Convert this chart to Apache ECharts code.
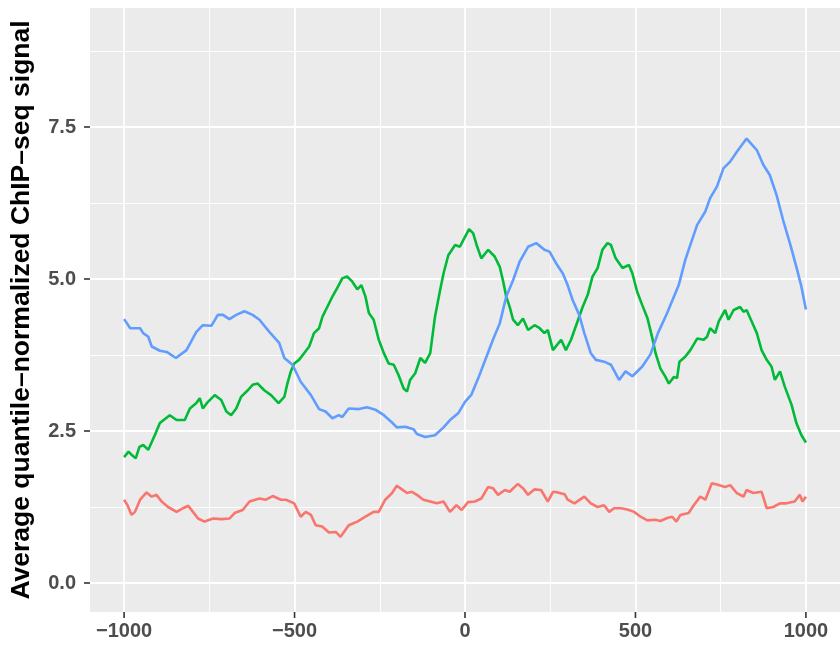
<!DOCTYPE html>
<html>
<head>
<meta charset="utf-8">
<script src="https://cdn.jsdelivr.net/npm/echarts@6/dist/echarts.min.js"></script>
<style>html,body{margin:0;padding:0;background:#fff}#c{width:840px;height:645px}</style>
</head>
<body>
<div id="c"></div>
<script>
const xMajorTicks = [-1000, -500, 0, 500, 1000];
const xMinorTicks = [-750, -250, 250, 750];
const yMajorTicks = [0, 2.5, 5, 7.5];
const yMinorTicks = [1.25, 3.75, 6.25, 8.75];
const yTitle = 'Average quantile\u2013normalized ChIP\u2013seq signal';

const blueSeries = [[-1000,4.34],[-982,4.19],[-953,4.19],[-944,4.11],[-929,4.05],[-919,3.89],[-895,3.82],[-875,3.80],[-848,3.70],[-817,3.83],[-788,4.13],[-769,4.24],[-744,4.23],[-725,4.41],[-710,4.41],[-691,4.34],[-671,4.41],[-647,4.47],[-623,4.41],[-603,4.33],[-574,4.13],[-545,3.95],[-530,3.70],[-506,3.59],[-482,3.31],[-452,3.09],[-428,2.86],[-409,2.82],[-389,2.71],[-370,2.76],[-360,2.73],[-341,2.87],[-311,2.86],[-287,2.89],[-263,2.85],[-238,2.76],[-214,2.64],[-200,2.56],[-175,2.57],[-151,2.53],[-141,2.45],[-117,2.40],[-88,2.43],[-63,2.56],[-44,2.68],[-20,2.79],[0,2.98],[19,3.10],[39,3.37],[63,3.72],[82,4.0],[102,4.27],[121,4.71],[141,4.98],[160,5.28],[185,5.53],[209,5.59],[233,5.48],[248,5.45],[267,5.26],[287,5.09],[301,4.90],[316,4.65],[335,4.41],[350,4.11],[369,3.78],[384,3.67],[408,3.64],[428,3.59],[452,3.34],[471,3.48],[491,3.40],[520,3.56],[544,3.76],[566,4.11],[593,4.44],[627,4.90],[646,5.31],[661,5.56],[681,5.89],[705,6.11],[719,6.33],[739,6.52],[758,6.82],[778,6.93],[797,7.09],[826,7.31],[856,7.12],[875,6.88],[894,6.71],[914,6.38],[933,5.97],[953,5.59],[972,5.20],[987,4.87],[1000,4.50]];

const greenSeries = [[-1000,2.07],[-987,2.16],[-978,2.11],[-966,2.05],[-955,2.24],[-944,2.27],[-929,2.19],[-910,2.43],[-895,2.63],[-866,2.76],[-846,2.68],[-822,2.68],[-807,2.87],[-788,2.96],[-778,3.04],[-769,2.87],[-754,2.98],[-734,3.09],[-715,3.01],[-700,2.82],[-686,2.76],[-671,2.87],[-657,3.06],[-637,3.17],[-623,3.26],[-608,3.28],[-589,3.17],[-569,3.09],[-547,2.96],[-530,3.06],[-521,3.28],[-511,3.48],[-501,3.61],[-487,3.67],[-472,3.78],[-457,3.89],[-443,4.11],[-428,4.19],[-418,4.38],[-404,4.54],[-389,4.71],[-375,4.85],[-360,5.01],[-346,5.04],[-331,4.96],[-316,4.83],[-304,4.90],[-292,4.71],[-282,4.44],[-268,4.33],[-253,4.0],[-238,3.78],[-224,3.61],[-209,3.59],[-195,3.42],[-180,3.20],[-170,3.15],[-161,3.34],[-146,3.45],[-131,3.70],[-117,3.62],[-102,3.78],[-88,4.38],[-73,4.82],[-63,5.09],[-49,5.39],[-29,5.56],[-15,5.53],[-5,5.64],[12,5.82],[24,5.75],[34,5.56],[48,5.34],[68,5.48],[87,5.37],[102,5.20],[112,4.96],[121,4.71],[131,4.54],[141,4.33],[155,4.24],[170,4.35],[185,4.16],[204,4.24],[219,4.19],[233,4.11],[243,4.16],[258,3.83],[282,4.0],[296,3.83],[311,4.0],[330,4.30],[345,4.54],[360,4.74],[374,5.04],[389,5.18],[403,5.48],[418,5.59],[428,5.56],[442,5.34],[462,5.18],[481,5.23],[491,5.09],[505,4.79],[520,4.57],[535,4.36],[549,4.04],[559,3.78],[573,3.53],[588,3.39],[598,3.28],[613,3.39],[622,3.37],[629,3.64],[646,3.72],[661,3.83],[681,4.02],[700,4.0],[710,4.05],[719,4.19],[734,4.11],[744,4.30],[763,4.49],[773,4.33],[788,4.49],[807,4.54],[817,4.46],[826,4.49],[841,4.30],[856,4.11],[870,3.83],[885,3.67],[899,3.56],[909,3.34],[924,3.48],[938,3.23],[958,2.93],[972,2.63],[987,2.43],[1000,2.31]];

const redSeries = [[-1000,1.37],[-990,1.28],[-978,1.12],[-968,1.17],[-953,1.37],[-934,1.49],[-919,1.42],[-905,1.45],[-890,1.34],[-871,1.25],[-846,1.17],[-827,1.23],[-812,1.27],[-798,1.17],[-783,1.06],[-764,1.01],[-739,1.06],[-715,1.05],[-691,1.06],[-676,1.15],[-652,1.20],[-632,1.34],[-603,1.39],[-584,1.37],[-564,1.43],[-540,1.37],[-525,1.37],[-501,1.31],[-482,1.09],[-467,1.17],[-452,1.12],[-438,0.95],[-419,0.93],[-399,0.83],[-379,0.84],[-365,0.76],[-341,0.95],[-316,1.01],[-292,1.09],[-268,1.17],[-253,1.17],[-234,1.37],[-214,1.48],[-200,1.60],[-185,1.54],[-170,1.48],[-156,1.50],[-141,1.45],[-122,1.37],[-102,1.34],[-83,1.31],[-63,1.34],[-44,1.17],[-25,1.28],[-10,1.20],[9,1.33],[29,1.34],[48,1.39],[68,1.58],[82,1.56],[97,1.45],[117,1.53],[131,1.50],[155,1.63],[170,1.56],[185,1.45],[204,1.54],[223,1.53],[243,1.34],[258,1.50],[272,1.49],[292,1.46],[301,1.37],[321,1.31],[350,1.42],[369,1.31],[389,1.25],[408,1.28],[423,1.17],[437,1.23],[457,1.23],[476,1.21],[496,1.17],[515,1.09],[535,1.03],[559,1.04],[573,1.02],[593,1.07],[608,1.09],[620,1.01],[632,1.12],[656,1.15],[671,1.28],[690,1.42],[705,1.37],[724,1.64],[744,1.61],[763,1.58],[778,1.61],[797,1.48],[817,1.42],[826,1.53],[846,1.48],[870,1.50],[885,1.23],[904,1.25],[924,1.31],[943,1.31],[967,1.34],[982,1.45],[990,1.34],[1000,1.42]];

const FONT = '"Liberation Sans", Arial, Helvetica, sans-serif';
const chart = echarts.init(document.getElementById('c'), null, {renderer: 'canvas'});
const X_MIN = -1100, X_MAX = 1100, Y_MIN = -0.477, Y_MAX = 9.457;
const TICK_LEN = 6, TICK_W = 1.6;

const majorLine = {show: true, lineStyle: {color: '#FFFFFF', width: 1.8}};
const minorLine = {show: true, lineStyle: {color: '#FFFFFF', width: 0.9}};

chart.setOption({
  animation: false,
  backgroundColor: '#FFFFFF',
  grid: {left: 89.5, top: 8, width: 754, height: 604, show: true, backgroundColor: '#EBEBEB', borderWidth: 0, containLabel: false},
  xAxis: [
    {type: 'value', min: X_MIN, max: X_MAX, position: 'bottom',
     axisLine: {show: false, onZero: false},
     axisTick: {show: false, customValues: xMajorTicks},
     axisLabel: {show: true, customValues: xMajorTicks, margin: 9, fontFamily: FONT, fontWeight: 'bold', fontSize: 20, color: '#4D4D4D',
       formatter: v => String(v).replace('-', '\u2212')},
     splitLine: majorLine, z: 1},
    {type: 'value', min: X_MIN, max: X_MAX, position: 'top',
     axisLine: {show: false, onZero: false},
     axisTick: {show: false, customValues: xMinorTicks},
     axisLabel: {show: false, customValues: xMinorTicks},
     splitLine: minorLine, z: 0}
  ],
  yAxis: [
    {type: 'value', min: Y_MIN, max: Y_MAX, position: 'left',
     name: yTitle, nameLocation: 'middle', nameGap: 55,
     nameTextStyle: {fontFamily: FONT, fontWeight: 'bold', fontSize: 26.5, color: '#000000'},
     axisLine: {show: false, onZero: false},
     axisTick: {show: false, customValues: yMajorTicks},
     axisLabel: {show: true, customValues: yMajorTicks, margin: 14, fontFamily: FONT, fontWeight: 'bold', fontSize: 20, color: '#4D4D4D',
       formatter: v => Number(v).toFixed(1)},
     splitLine: majorLine, z: 1},
    {type: 'value', min: Y_MIN, max: Y_MAX, position: 'right',
     axisLine: {show: false, onZero: false},
     axisTick: {show: false, customValues: yMinorTicks},
     axisLabel: {show: false, customValues: yMinorTicks},
     splitLine: minorLine, z: 0}
  ],
  series: [
    {name: 'red', type: 'line', data: redSeries, showSymbol: false, symbol: 'none', xAxisIndex: 0, yAxisIndex: 0,
     lineStyle: {color: '#F8766D', width: 2.6}, itemStyle: {color: '#F8766D'}, z: 3},
    {name: 'green', type: 'line', data: greenSeries, showSymbol: false, symbol: 'none', xAxisIndex: 0, yAxisIndex: 0,
     lineStyle: {color: '#00BA38', width: 2.6}, itemStyle: {color: '#00BA38'}, z: 4},
    {name: 'blue', type: 'line', data: blueSeries, showSymbol: false, symbol: 'none', xAxisIndex: 0, yAxisIndex: 0,
     lineStyle: {color: '#619CFF', width: 2.6}, itemStyle: {color: '#619CFF'}, z: 5}
  ]
});

// Axis tick marks as small filled rects, placed through the chart's own scales
const tickGraphics = [];
yMajorTicks.forEach(v => {
  const p = chart.convertToPixel({gridIndex: 0}, [X_MIN, v]);
  if (p) tickGraphics.push({type: 'rect', z: 100, silent: true,
    shape: {x: p[0] - TICK_LEN, y: p[1] - TICK_W / 2, width: TICK_LEN, height: TICK_W},
    style: {fill: '#333333'}});
});
xMajorTicks.forEach(v => {
  const p = chart.convertToPixel({gridIndex: 0}, [v, Y_MIN]);
  if (p) tickGraphics.push({type: 'rect', z: 100, silent: true,
    shape: {x: p[0] - TICK_W / 2, y: p[1], width: TICK_W, height: TICK_LEN},
    style: {fill: '#333333'}});
});
chart.setOption({graphic: {elements: tickGraphics}});
</script>
</body>
</html>
